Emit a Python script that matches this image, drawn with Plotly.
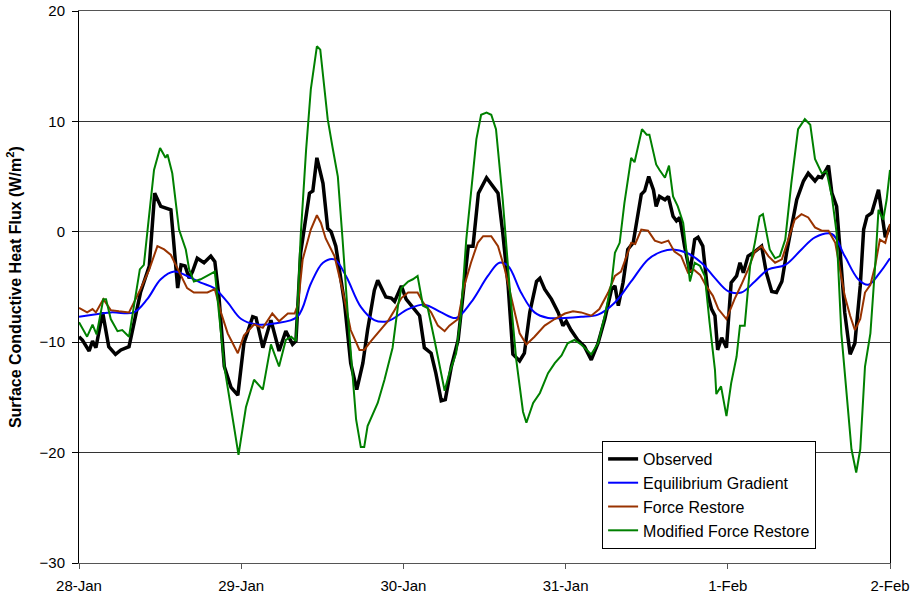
import pandas as pd
import plotly.graph_objects as go

START = pd.Timestamp("2000-01-28")

obs_h = [0, 0.5, 1.5, 2, 2.5, 3.5, 4.4, 5.4, 6.2, 7.4, 9.1, 10.4, 11.2, 12.1, 13.6, 14.6, 15.1, 15.7, 16.3, 16.8,
         17.5, 18.5, 19.5, 20.1, 20.7, 21.5, 22.5, 23.5, 24.4, 25.7, 26.2, 27.2, 28.4, 29.6, 30.6, 31.6, 32.1,
         32.8, 34.1, 34.6, 35.2, 36.1, 36.8, 37.3, 38.0, 39.3, 40.2, 41.1, 42, 42.7, 43.7, 44.2, 45.4, 46.2,
         46.7, 47.7, 48.4, 49.6, 50.4, 51.1, 52.1, 52.8, 53.6, 54.2, 55.1, 56.1, 56.8, 57.6, 58.3, 59.1, 60.3,
         61.2, 62, 62.7, 63.5, 64.2, 65.2, 65.9, 66.7, 67.7, 68.2, 68.9, 69.9, 70.9, 71.6, 72.1, 72.8, 73.8,
         74.8, 75.8, 76.8, 77.8, 78.8, 79.3, 79.8, 80.5, 81.2, 82, 82.8, 83.2, 83.7, 84.3, 85, 85.4, 85.9, 86.7,
         87.2, 87.9, 88.4, 88.9, 89.6, 90.4, 91.1, 91.6, 92.3, 93.1, 93.6, 94.1, 94.5, 95.1, 95.8, 96.5, 97.3,
         97.8, 98.3, 99, 100, 101, 101.7, 102.5, 103.2, 104, 104.7, 105.4, 106.2, 107.2, 107.9, 108.9, 109.4,
         109.9, 110.9, 111.4, 112.1, 112.6, 113.3, 114.1, 114.8, 115.6, 116.1, 116.6, 117.3, 118.3, 118.8,
         119.3, 120]
obs_v = [-9.5, -9.8, -10.8, -9.9, -10.5, -7.3, -10.4, -11.1, -10.7, -10.4, -5.5, -3.1, 3.5, 2.3, 2.0, -5.1, -3.0,
         -3.1, -4.2, -3.6, -2.4, -2.8, -2.2, -2.7, -5.8, -12.2, -14.1, -14.8, -10.1, -7.7, -7.8, -10.5, -8.0,
         -10.8, -9.0, -10.2, -9.9, -1.9, 3.5, 3.7, 6.7, 4.4, 0.3, 0.0, -1.3, -6.5, -11.9, -14.3, -11.9, -8.9,
         -5.3, -4.4, -5.9, -6.0, -6.3, -4.9, -6.1, -7.0, -7.6, -10.5, -11.0, -12.8, -15.3, -15.2, -12.2, -9.8,
         -6.1, -1.3, -1.3, 3.5, 4.9, 4.1, 3.5, -0.1, -4.9, -11.1, -11.7, -11.0, -7.3, -4.5, -4.2, -5.2, -6.1,
         -7.3, -8.5, -8.1, -8.9, -9.8, -10.4, -11.6, -10.1, -7.9, -5.2, -4.9, -6.7, -4.6, -1.6, -1.0, 2.0, 3.4,
         3.7, 5.0, 3.8, 2.3, 3.2, 2.9, 3.2, 1.4, 1.0, 1.3, -1.3, -3.7, -0.7, -0.5, -1.3, -5.8, -7.0, -7.6,
         -10.7, -9.6, -10.5, -4.6, -4.0, -2.8, -3.7, -2.2, -1.8, -1.3, -3.7, -5.4, -5.5, -4.5, -1.9, 0.5, 2.9,
         4.6, 5.3, 4.6, 5.0, 4.9, 6.0, 3.5, 2.3, -1.6, -7.3, -11.1, -10.1, -4.9, 0.2, 1.4, 1.7, 3.8, 1.4,
         -0.5, 0.5]

eg_h = [0, 4.7, 8.1, 10.1, 12.1, 14.1, 16, 18, 20, 22, 24, 26.4, 28.9, 32.3, 34.3, 36.1, 37.8, 39.5, 41.7,
        43.7, 45.7, 48.7, 51.1, 53.6, 55.8, 58, 60.5, 62.2, 63.5, 65.4, 67.4, 69.4, 71.9, 74.3, 76.8, 79.3,
        81.7, 84.2, 86.2, 87.9, 89.9, 92.1, 94.1, 96.1, 98, 100, 102, 104.5, 106.9, 108.9, 111.4, 113.3,
        115.3, 116.8, 118.5, 120]
eg_v = [-7.7, -7.3, -7.3, -6.1, -4.3, -3.6, -4.0, -4.6, -5.1, -6.4, -7.9, -8.4, -8.3, -7.7, -4.7, -2.8, -2.5,
        -4.0, -6.8, -8.0, -8.1, -7.0, -6.6, -7.3, -7.8, -6.4, -4.0, -2.8, -3.1, -5.5, -7.3, -7.8, -7.8, -7.7,
        -7.5, -6.4, -4.5, -2.5, -1.8, -1.6, -1.9, -2.8, -4.2, -5.4, -5.5, -4.5, -3.4, -3.0, -1.6, -0.5, -0.2,
        -2.2, -4.3, -4.8, -3.7, -2.4]

fr_h = [0, 1.2, 2, 2.5, 3.6, 4.7, 5.9, 7.4, 9.1, 10.4, 11.6, 12.6, 13.6, 14.6, 16, 17, 19, 20.1, 21, 22, 23.5,
        24.4, 25.9, 27.2, 28.6, 29.6, 30.9, 31.9, 32.4, 33.1, 34.3, 35.2, 35.8, 36.5, 37.8, 39, 40.2, 41.5,
        42.2, 43.2, 44.4, 45.7, 46.5, 47.7, 48.7, 50.1, 50.9, 52.1, 53.1, 54.1, 54.8, 56.1, 57.0, 58, 59,
        59.8, 61, 62, 63, 64.2, 65.2, 66.2, 67.4, 68.9, 70.4, 71.9, 73.1, 74.3, 75.8, 77, 78.3, 79.3, 80.2,
        81.2, 81.7, 82.3, 83.2, 84.2, 85.2, 86.2, 87.2, 88.1, 89.1, 90.1, 90.9, 91.9, 92.8, 93.8, 94.6, 95.8,
        97, 98, 99, 100, 101, 102, 103, 104, 105, 105.9, 106.9, 107.9, 108.9, 109.9, 110.9, 111.9, 112.6,
        113.3, 114.1, 114.8, 115.6, 116.3, 117.1, 117.8, 118.5, 119.3, 120]
fr_v = [-6.9, -7.3, -7.0, -7.3, -6.1, -7.1, -7.2, -7.3, -5.2, -3.4, -1.3, -1.6, -2.1, -3.4, -5.1, -5.5, -5.5,
        -5.2, -7.3, -9.2, -11.0, -9.4, -8.4, -8.7, -7.4, -8.1, -7.4, -7.4, -6.6, -2.5, 0.2, 1.5, 0.8, -0.6,
        -2.2, -5.3, -8.9, -10.7, -10.7, -9.9, -9.0, -8.1, -7.3, -6.0, -5.5, -5.5, -6.4, -7.3, -8.5, -9.0,
        -8.5, -7.9, -4.9, -2.8, -1.0, -0.4, -0.4, -1.3, -3.4, -6.7, -9.2, -10.2, -9.5, -8.5, -7.9, -7.4,
        -7.2, -7.3, -7.6, -7.0, -5.5, -4.0, -3.6, -1.9, -1.0, -1.1, 0.2, 0.1, -0.8, -1.0, -0.8, -1.8, -2.2,
        -3.7, -3.4, -3.9, -4.9, -5.8, -7.0, -7.9, -6.1, -4.8, -3.4, -1.8, -1.3, -2.2, -2.8, -2.5, -0.7, 1.1,
        1.6, 1.3, 0.4, 0.1, 0.1, -1.0, -3.4, -5.8, -7.6, -8.9, -7.9, -5.5, -4.8, -3.1, -0.7, -1.0, 0.7]

mfr_h = [0, 1.2, 2, 2.6, 3.6, 4, 4.7, 5.7, 6.4, 7.4, 9.0, 9.6, 10.2, 11.1, 12.0, 12.8, 13.1, 13.8, 14.8, 15.8,
         16.3, 17.0, 18, 19, 20.1, 20.5, 21.5, 23, 23.6, 24.7, 25.9, 27.2, 28.4, 29.6, 30.6, 31.4, 32.1, 32.8,
         33.6, 34.3, 35.2, 35.7, 36.8, 37.5, 38.3, 39, 39.8, 41, 41.7, 42.2, 42.7, 44.2, 45.2, 46.4, 47.2,
         47.7, 48.7, 49.4, 50.1, 50.9, 51.6, 52.6, 54.1, 54.8, 55.8, 56.5, 57.3, 58, 58.8, 59.5, 60.3, 61,
         61.7, 62.7, 63.7, 64.7, 65.7, 66.2, 67.2, 68.2, 69.4, 70.4, 71.4, 72.3, 73.3, 74.3, 75.8, 76.8,
         77.8, 78.8, 79.3, 80, 80.7, 81.7, 82.2, 83.3, 84, 84.4, 85.4, 85.9, 86.7, 87.3, 87.9, 88.6, 89.4,
         90.4, 91.1, 91.9, 92.6, 93.3, 94.1, 94.3, 95, 95.8, 96.5, 97.3, 97.8, 98.5, 99.3, 100, 100.7, 101.2,
         102.2, 103, 103.7, 104.5, 105.4, 106.4, 107.4, 108.2, 108.9, 109.9, 110.6, 111.4, 112.1, 112.8,
         113.6, 114.3, 115, 115.6, 116.3, 117.1, 117.8, 118.3, 119, 119.5, 120]
mfr_v = [-8.2, -9.5, -8.4, -9.3, -6.1, -6.1, -7.9, -9.0, -8.9, -9.5, -3.4, -3.0, 0.5, 5.6, 7.6, 6.7, 7.0, 5.3,
         0.2, -1.6, -3.4, -4.5, -4.3, -4.0, -3.6, -6.1, -12.2, -17.9, -20.2, -15.9, -13.4, -14.3, -10.2,
         -12.2, -9.8, -9.5, -9.9, -0.4, 7.4, 12.9, 16.8, 16.5, 10.2, 7.7, 5.0, -0.7, -7.7, -17.0, -19.5,
         -19.5, -17.6, -15.5, -13.4, -10.5, -6.7, -5.1, -4.5, -4.3, -4.0, -6.7, -6.9, -9.8, -14.4, -12.8,
         -11.0, -7.6, -0.7, 3.5, 8.4, 10.6, 10.8, 10.6, 9.3, 2.9, -4.9, -11.6, -16.3, -17.3, -15.5, -14.6,
         -12.8, -11.9, -11.2, -10.1, -9.8, -10.2, -11.1, -10.1, -7.6, -4.6, -1.9, -1.0, 2.6, 6.7, 6.3, 9.3,
         8.8, 8.8, 6.1, 5.6, 4.9, 6.0, 3.2, 2.3, 0.8, -4.5, -2.8, -3.1, -4.0, -8.2, -12.5, -14.7, -14.0,
         -16.7, -13.7, -11.3, -8.5, -8.5, -3.1, -1.0, 1.4, 1.6, -1.6, -2.4, -2.2, -0.7, 4.4, 9.3, 10.2, 9.7,
         6.6, 5.3, 5.5, 3.2, -0.1, -9.2, -15.2, -19.7, -21.8, -19.7, -12.2, -9.2, -3.1, 2.0, 1.1, 2.9, 5.6]

series_names = ["Observed", "Equilibrium Gradient", "Force Restore", "Modified Force Restore"]
tick_days = ["2000-01-28", "2000-01-29", "2000-01-30", "2000-01-31", "2000-02-01", "2000-02-02"]
tick_labels = ["28-Jan", "29-Jan", "30-Jan", "31-Jan", "1-Feb", "2-Feb"]
y_title = "<b>Surface Conductive Heat Flux (W/m<sup>2</sup>)</b>"


def to_time(hours):
    return [START + pd.Timedelta(hours=h) for h in hours]


fig = go.Figure()
fig.add_trace(go.Scatter(x=to_time(obs_h), y=obs_v, name=series_names[0], mode="lines",
                         line=dict(color="black", width=3.5)))
fig.add_trace(go.Scatter(x=to_time(eg_h), y=eg_v, name=series_names[1], mode="lines",
                         line=dict(color="#0000FF", width=2, shape="spline", smoothing=1.0)))
fig.add_trace(go.Scatter(x=to_time(fr_h), y=fr_v, name=series_names[2], mode="lines",
                         line=dict(color="#993300", width=2)))
fig.add_trace(go.Scatter(x=to_time(mfr_h), y=mfr_v, name=series_names[3], mode="lines",
                         line=dict(color="#008000", width=2)))

font_family = "Liberation Sans, Arial, sans-serif"
fig.update_layout(
    width=910, height=596,
    margin=dict(l=79, r=20, t=11, b=33, autoexpand=False),
    paper_bgcolor="white", plot_bgcolor="white",
    font=dict(family=font_family, size=13, color="black"),
    showlegend=True,
    legend=dict(x=0.645, y=0.221, xanchor="left", yanchor="top",
                bgcolor="white", bordercolor="black", borderwidth=1,
                itemwidth=30, tracegroupgap=0,
                font=dict(size=16, family=font_family)),
    xaxis=dict(type="date", range=[tick_days[0], tick_days[-1]], automargin=False,
               tickvals=tick_days, ticktext=tick_labels,
               showgrid=False, zeroline=False,
               showline=True, linecolor="#555", linewidth=1, mirror=True,
               ticks="outside", ticklen=5, tickcolor="#555", ticklabelstandoff=4,
               tickfont=dict(size=15)),
    yaxis=dict(range=[-30, 20], tickvals=[-30, -20, -10, 0, 10, 20], automargin=False,
               showgrid=True, gridcolor="#333", gridwidth=1,
               zeroline=True, zerolinecolor="#666", zerolinewidth=1,
               showline=True, linecolor="black", linewidth=1, mirror=True,
               ticks="outside", ticklen=6, tickcolor="black", ticklabelstandoff=4,
               tickfont=dict(size=15)),
    annotations=[dict(text=y_title, xref="paper", yref="paper", x=-0.08, y=0.5,
                      xanchor="center", yanchor="middle", textangle=-90, showarrow=False,
                      font=dict(size=16, family=font_family))],
)

fig.write_html("out.html", config={"displayModeBar": False},
               post_script="document.body.style.margin='0';")
